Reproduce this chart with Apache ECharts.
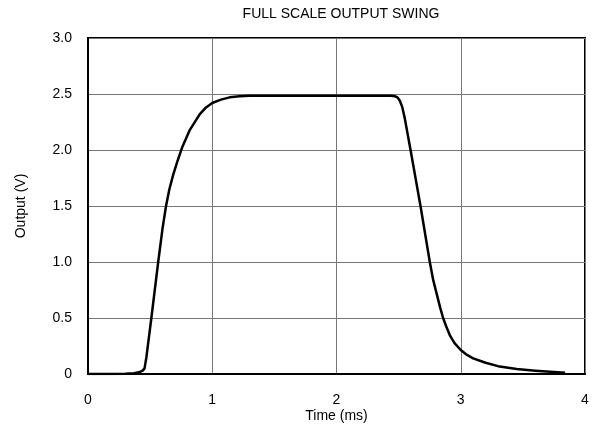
<!DOCTYPE html>
<html>
<head>
<meta charset="utf-8">
<script src="https://cdn.jsdelivr.net/npm/echarts@6/dist/echarts.min.js"></script>
<style>html,body{margin:0;padding:0;background:#fff}#c{width:594px;height:446px}</style>
</head>
<body>
<div id="c"></div>
<script>
var titleText = 'FULL SCALE OUTPUT SWING';
var xName = 'Time (ms)';
var yName = 'Output (V)';
var timeMs = [0, 0.2, 0.3, 0.37, 0.41, 0.44, 0.455, 0.47, 0.51, 0.565, 0.6, 0.628, 0.655, 0.686, 0.72, 0.76, 0.82, 0.9, 0.95, 1.0, 1.07, 1.14, 1.22, 1.3, 1.5, 2.0, 2.44, 2.47, 2.49, 2.51, 2.53, 2.55, 2.596, 2.676, 2.751, 2.778, 2.81, 2.835, 2.858, 2.885, 2.915, 2.95, 3.0, 3.05, 3.1, 3.2, 3.3, 3.45, 3.6, 3.72, 3.84];
var outputV = [0, 0, 0.002, 0.006, 0.015, 0.03, 0.05, 0.15, 0.5, 1.0, 1.3, 1.5, 1.65, 1.78, 1.9, 2.03, 2.18, 2.32, 2.38, 2.42, 2.45, 2.47, 2.48, 2.485, 2.485, 2.485, 2.485, 2.48, 2.47, 2.44, 2.38, 2.28, 2.0, 1.5, 1.0, 0.84, 0.7, 0.59, 0.5, 0.42, 0.34, 0.275, 0.214, 0.17, 0.14, 0.1, 0.07, 0.045, 0.03, 0.02, 0.012];
var font = 'Liberation Sans, Arial, sans-serif';
var data = timeMs.map(function (t, i) { return [t, outputV[i]]; });
var chart = echarts.init(document.getElementById('c'));
chart.setOption({
  animation: false,
  backgroundColor: '#fff',
  title: { text: titleText, left: 336, textAlign: 'center', top: 2,
    textStyle: { fontFamily: font, fontSize: 14, fontWeight: 'normal', color: '#000' } },
  grid: { left: 88, right: 9, top: 38, bottom: 72, show: true, borderColor: '#000', borderWidth: 2, backgroundColor: 'transparent' },
  xAxis: { type: 'value', min: 0, max: 4, interval: 1,
    name: xName, nameLocation: 'middle', nameGap: 35, nameMoveOverlap: false,
    nameTextStyle: { fontFamily: font, fontSize: 14, color: '#000' },
    axisLine: { show: true, lineStyle: { color: '#000', width: 2 } },
    axisTick: { show: false },
    axisLabel: { fontFamily: font, fontSize: 14, color: '#000', margin: 19 },
    splitLine: { show: true, lineStyle: { color: '#777', width: 1 } } },
  yAxis: { type: 'value', min: 0, max: 3, interval: 0.5,
    name: yName, nameLocation: 'middle', nameGap: 60, nameRotate: 90,
    nameTextStyle: { fontFamily: font, fontSize: 14, color: '#000' },
    axisLine: { show: true, lineStyle: { color: '#000', width: 2 } },
    axisTick: { show: false },
    axisLabel: { fontFamily: font, fontSize: 14, color: '#000', margin: 16,
      formatter: function (v) { return v === 0 ? '0' : v.toFixed(1); } },
    splitLine: { show: true, lineStyle: { color: '#777', width: 1 } } },
  series: [{ type: 'line', data: data, showSymbol: false, smooth: false,
    lineStyle: { color: '#000', width: 2.5, join: 'round' } }]
});
</script>
</body>
</html>
